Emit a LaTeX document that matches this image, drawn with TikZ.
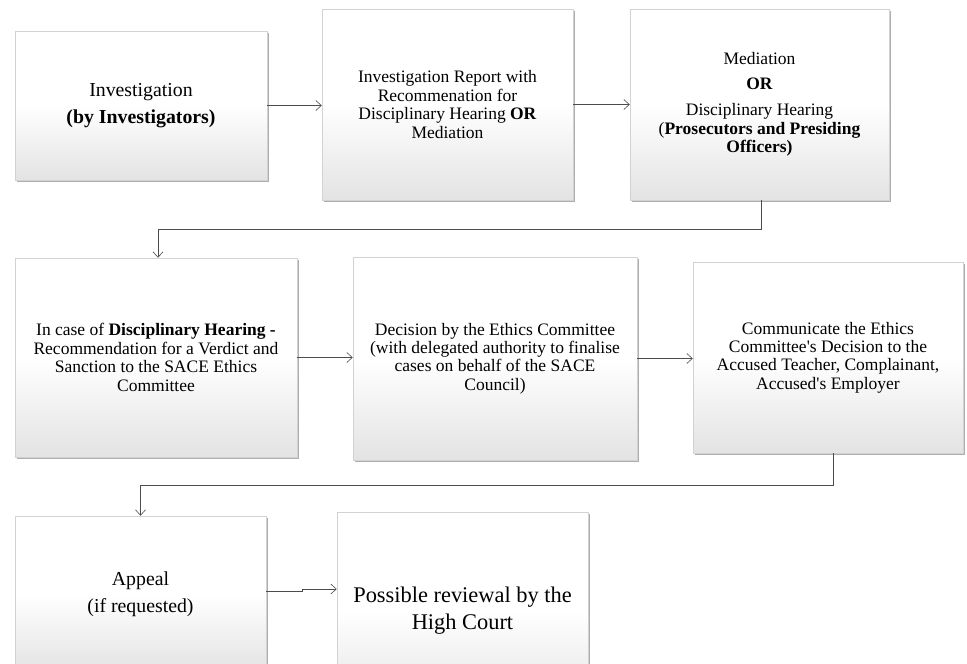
\documentclass[tikz,border=0pt]{standalone}
\usepackage{fontspec}
\setmainfont{Liberation Serif}[Ligatures=TeXOff]
\usetikzlibrary{arrows.meta,shadows,calc}
\begin{document}
\begin{tikzpicture}[x=1pt,y=-1pt,
  box/.style={draw=gray!35, line width=0.5pt, top color=white, bottom color=gray!22, middle color=white,
    align=center, inner sep=0pt,
    drop shadow={shadow xshift=1.6pt, shadow yshift=-2pt, fill=black!70, opacity=0.45}},
  conn/.style={draw=black!70, line width=0.7pt, -{Straight Barb[length=5.5pt,width=10pt,line width=0.6pt]}},
  txt/.style={font=\fontsize{17.5}{18.4}\selectfont},
  bigtxt/.style={font=\fontsize{19.8}{21}\selectfont},
]
\useasboundingbox (0,0) rectangle (967,664);
\clip (0,0) rectangle (967,664);

\node[box, bigtxt, minimum width=252pt, minimum height=149pt] (b1) at (141,105.5)
  {Investigation\\[6pt]\textbf{(by Investigators)}};
\node[box, txt, minimum width=251pt, minimum height=191pt] (b2) at (447.5,104.5)
  {Investigation Report with\\Recommenation for\\Disciplinary Hearing \textbf{OR}\\Mediation};
\node[box, txt, minimum width=259pt, minimum height=191pt] (b3) at (759.5,104.5)
  {Mediation\\[6pt]\textbf{OR}\\[8pt]Disciplinary Hearing\\(\textbf{Prosecutors and Presiding}\\\textbf{Officers)}};

\node[box, txt, minimum width=282pt, minimum height=199pt] (b4) at (156,357.5)
  {In case of \textbf{Disciplinary Hearing -}\\Recommendation for a Verdict and\\Sanction to the SACE Ethics\\Committee};
\node[box, txt, minimum width=284pt, minimum height=203pt] (b5) at (495,358.5)
  {Decision by the Ethics Committee\\(with delegated authority to finalise\\cases on behalf of the SACE\\Council)};
\node[box, txt, minimum width=270pt, minimum height=191pt] (b6) at (828,357.5)
  {Communicate the Ethics\\Committee's Decision to the\\Accused Teacher, Complainant,\\Accused's Employer};

\node[box, bigtxt, minimum width=251pt, minimum height=156pt] (b7) at (140.5,594)
  {Appeal\\[6pt](if requested)};
\node[box, font=\fontsize{22.4}{27}\selectfont, minimum width=251pt, minimum height=198pt] (b8) at (462.5,611)
  {Possible reviewal by the\\High Court};

\draw[conn] (b1.east) -- (b1.east -| b2.west);
\draw[conn] (b2.east) -- (b2.east -| b3.west);
\draw[conn] ([xshift=1.5pt]b3.south) -- ++(0,29) -| ([xshift=2pt]b4.north);
\draw[conn] (b4.east) -- (b4.east -| b5.west);
\draw[conn] (b5.east) -- (b5.east -| b6.west);
\draw[conn] ([xshift=5pt]b6.south) -- ++(0,32) -| (b7.north);
\draw[conn] ([yshift=3pt]b7.east) -- ++(36,0) |- ([yshift=22pt]b8.west);
\end{tikzpicture}
\end{document}
